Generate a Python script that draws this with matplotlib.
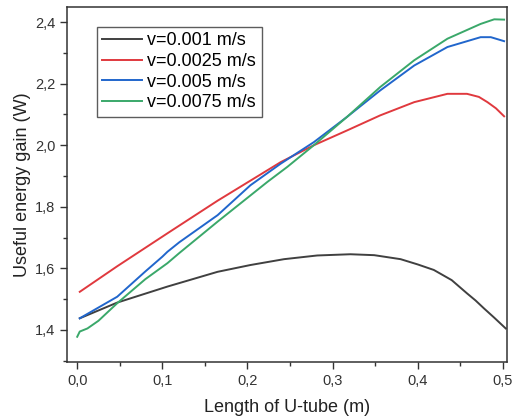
import matplotlib
matplotlib.use("Agg")
import matplotlib.pyplot as plt
from matplotlib.ticker import MultipleLocator, FuncFormatter

plt.rcParams['font.family'] = ['Liberation Sans', 'DejaVu Sans']

# values
x_black = [0.003, 0.047, 0.106, 0.165, 0.2035, 0.243, 0.282, 0.321, 0.349, 0.38, 0.4, 0.419,
           0.44, 0.458, 0.468, 0.478, 0.49, 0.5035]
y_black = [1.438, 1.489, 1.541, 1.589, 1.611, 1.630, 1.642, 1.646, 1.643, 1.630, 1.613, 1.595,
           1.562, 1.519, 1.496, 1.47, 1.44, 1.405]

x_red = [0.003, 0.047, 0.106, 0.165, 0.2035, 0.239, 0.278, 0.317, 0.356, 0.396, 0.435, 0.458,
         0.472, 0.482, 0.492, 0.5016]
y_red = [1.524, 1.607, 1.714, 1.82, 1.885, 1.945, 2.0, 2.048, 2.097, 2.14, 2.167, 2.167,
         2.157, 2.14, 2.12, 2.094]

x_blue = [0.003, 0.047, 0.08, 0.1, 0.106, 0.12, 0.165, 0.2035, 0.239, 0.278, 0.317, 0.356,
          0.396, 0.435, 0.474, 0.486, 0.5016]
y_blue = [1.438, 1.508, 1.59, 1.638, 1.654, 1.685, 1.773, 1.87, 1.94, 2.01, 2.092, 2.178,
          2.259, 2.319, 2.351, 2.351, 2.338]

x_green = [0.0, 0.003, 0.012, 0.025, 0.047, 0.08, 0.106, 0.12, 0.165, 0.2235, 0.247, 0.278,
           0.317, 0.356, 0.396, 0.435, 0.474, 0.49, 0.5016]
y_green = [1.378, 1.395, 1.405, 1.43, 1.487, 1.565, 1.617, 1.65, 1.752, 1.881, 1.93, 2.0,
           2.092, 2.189, 2.276, 2.346, 2.394, 2.409, 2.408]

labels = ['v=0.001 m/s', 'v=0.0025 m/s', 'v=0.005 m/s', 'v=0.0075 m/s']
colors = ['#404040', '#e0393e', '#2166cc', '#3aa86a']

fig = plt.figure(figsize=(5.13, 4.19), dpi=100)
ax = fig.add_axes([0.1306, 0.136, 0.8577, 0.8473])

ax.plot(x_black, y_black, color=colors[0], lw=1.4, label=labels[0])
ax.plot(x_red, y_red, color=colors[1], lw=1.4, label=labels[1])
ax.plot(x_blue, y_blue, color=colors[2], lw=1.4, label=labels[2])
ax.plot(x_green, y_green, color=colors[3], lw=1.4, label=labels[3])

ax.set_xlim(-0.012, 0.505)
ax.set_ylim(1.296, 2.449)

comma = FuncFormatter(lambda v, p: ('%.1f' % v).replace('.', ','))
ax.xaxis.set_major_locator(MultipleLocator(0.1))
ax.xaxis.set_minor_locator(MultipleLocator(0.05))
ax.yaxis.set_major_locator(MultipleLocator(0.2))
ax.yaxis.set_minor_locator(MultipleLocator(0.1))
ax.xaxis.set_major_formatter(comma)
ax.yaxis.set_major_formatter(comma)
ax.tick_params(which='major', direction='out', length=5, width=1, labelsize=10.5, colors='#333333')
ax.tick_params(which='minor', direction='out', length=3, width=1, colors='#333333')
for s in ax.spines.values():
    s.set_color('#333333')
    s.set_linewidth(1.1)

ax.set_xlabel('Length of U-tube (m)', fontsize=13, color='#222222', labelpad=8)
ax.set_ylabel('Useful energy gain (W)', fontsize=13, color='#222222', labelpad=3)

leg = ax.legend(loc='upper left', bbox_to_anchor=(0.068, 0.944), fontsize=13, fancybox=False,
                handlelength=2.2, labelspacing=0.2, borderpad=0.3, handletextpad=0.3,
                borderaxespad=0)
leg.get_frame().set_edgecolor('#333333')
leg.get_frame().set_linewidth(1.0)

fig.savefig('out.png', dpi=100)
